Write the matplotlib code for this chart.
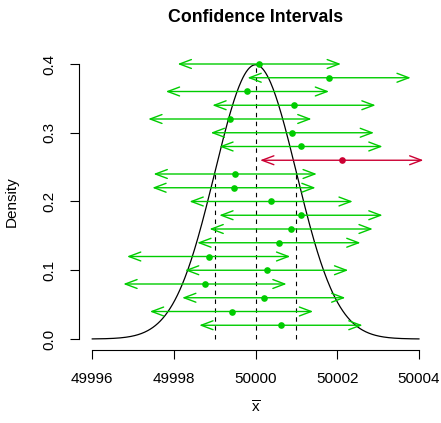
import numpy as np
import matplotlib
matplotlib.use("Agg")
import matplotlib.pyplot as plt

plt.rcParams['font.family'] = ['Liberation Sans', 'DejaVu Sans']
plt.rcParams['mathtext.fontset'] = 'custom'
plt.rcParams['mathtext.rm'] = 'Liberation Sans'

# population and interval settings
mu = 50000
sigma = 1
half_width = 2.0

# sample means (top to bottom, y = 0.40 ... 0.02)
heights = [0.40, 0.38, 0.36, 0.34, 0.32, 0.30, 0.28, 0.26, 0.24, 0.22,
           0.20, 0.18, 0.16, 0.14, 0.12, 0.10, 0.08, 0.06, 0.04, 0.02]
means = [50000.09, 50001.80, 49999.80, 50000.94, 49999.37, 50000.90, 50001.11,
         50002.11, 49999.50, 49999.47, 50000.38, 50001.11, 50000.87, 50000.57,
         49998.85, 50000.27, 49998.76, 50000.20, 49999.41, 50000.62]

green = "#00CC00"
red = "#CC0033"

fig = plt.figure(figsize=(4.41, 4.23), dpi=100)
ax = fig.add_axes([79.2 / 441, 73 / 423, (432 - 79.2) / 441, (370 - 73) / 423])

# normal density
x = np.linspace(mu - 4 * sigma, mu + 4 * sigma, 400)
dens = np.exp(-0.5 * ((x - mu) / sigma) ** 2) / (sigma * np.sqrt(2 * np.pi))
ax.plot(x, dens, color="black", lw=0.9)

# dashed reference lines up to the curve
for xv in [mu - sigma, mu, mu + sigma]:
    top = np.exp(-0.5 * ((xv - mu) / sigma) ** 2) / (sigma * np.sqrt(2 * np.pi))
    ax.plot([xv, xv], [0, top], color="black", lw=0.8, ls=(0, (4, 4)))

# intervals
for h, m in zip(heights, means):
    lo, hi = m - half_width, m + half_width
    col = green if lo <= mu <= hi else red
    ax.annotate("", xy=(lo, h), xytext=(hi, h),
                arrowprops=dict(arrowstyle="<->,head_length=0.85,head_width=0.32",
                                color=col, lw=1.0, shrinkA=0, shrinkB=0))
    ax.plot([m], [h], "o", color=col, ms=4.8, mec="none")

ax.set_xlim(49995.68, 50004.32)
ax.set_ylim(-0.016, 0.416)

# R style detached axes
for s in ["top", "right"]:
    ax.spines[s].set_visible(False)
ax.spines["left"].set_bounds(0, 0.4)
ax.spines["bottom"].set_bounds(49996, 50004)
ax.spines["left"].set_linewidth(0.8)
ax.spines["bottom"].set_linewidth(0.8)

ax.set_xticks([49996, 49998, 50000, 50002, 50004])
ax.set_xticklabels(["49996", "49998", "50000", "50002", "50004"])
ax.set_yticks([0.0, 0.1, 0.2, 0.3, 0.4])
ax.set_yticklabels(["0.0", "0.1", "0.2", "0.3", "0.4"], rotation=90, va="center")
ax.tick_params(axis="both", length=6.3, width=0.8, labelsize=11)
ax.tick_params(axis="x", pad=9.5)
ax.tick_params(axis="y", pad=10)

ax.set_xlabel(r"$\overline{\mathrm{x}}$", fontsize=11, labelpad=10)
ax.set_ylabel("Density", fontsize=11, labelpad=17)
ax.set_title("Confidence Intervals", fontsize=12.8, fontweight="bold", pad=22)

fig.savefig("out.png", dpi=100)
